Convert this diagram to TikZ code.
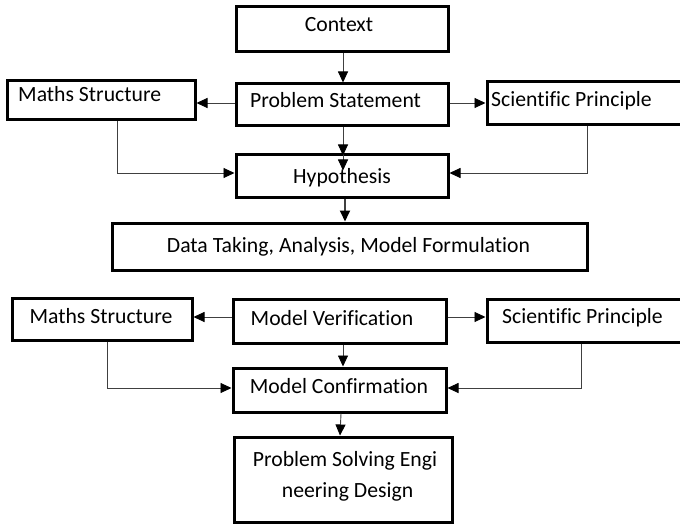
\documentclass[tikz,border=0pt]{standalone}
\usepackage{fontspec}
\setmainfont{Carlito}[Ligatures=NoCommon,RawFeature={-liga;-dlig;-clig}]
\usetikzlibrary{arrows.meta,calc}

\tikzset{
  box/.style={draw=black, line width=3pt, inner sep=0pt, rectangle},
  lbl/.style={inner sep=0pt, font=\fontsize{21.7}{26}\selectfont},
  link/.style={draw=black!75, line width=0.9pt,
    -{Triangle[length=11pt,width=10pt,color=black]}},
  twotip/.style={draw=black!75, line width=0.9pt,
    -{Triangle[length=11pt,width=10pt,sep=4pt,color=black]Triangle[length=11pt,width=10pt,color=black]}},
}

\begin{document}
\begin{tikzpicture}[x=1pt,y=-1pt]
\useasboundingbox (0,0) rectangle (680,524);

% upper block
\node[box, minimum width=212pt, minimum height=45pt] (ctx) at (342,29.5) {};
\node[box, minimum width=212pt, minimum height=42pt] (ps)  at (342,105) {};
\node[box, minimum width=188pt, minimum height=39pt] (ms1) at (101,100.5) {};
\node[box, minimum width=213pt, minimum height=43pt] (sp1) at (593.5,103.5) {};
\node[box, minimum width=212pt, minimum height=42pt] (hyp) at (342,176) {};
\node[box, minimum width=475pt, minimum height=47pt] (data) at (349.5,246.5) {};

% lower block
\node[box, minimum width=180pt, minimum height=42pt] (ms2) at (102,319) {};
\node[box, minimum width=213pt, minimum height=44pt] (mv)  at (339.5,321) {};
\node[box, minimum width=213pt, minimum height=43pt] (sp2) at (593.5,320.5) {};
\node[box, minimum width=213pt, minimum height=44pt] (mc)  at (339.5,390) {};
\node[box, minimum width=218pt, minimum height=85pt] (psd) at (343,479.5) {};

% texts
\node[lbl, anchor=base] (tctx) at (339,32) {Context};
\node[lbl, anchor=base] (tps) at (335.5,108) {Problem Statement};
\node[lbl, anchor=base west] (tms1) at (18,102) {Maths Structure};
\node[lbl, anchor=base west] (tsp1) at (491,107) {Scientific Principle};
\node[lbl, anchor=base] (thyp) at (342,183) {Hypothesis};
\node[lbl, anchor=base] (tdata) at (348.5,252) {Data Taking, Analysis, Model Formulation};
\node[lbl, anchor=base] (tms2) at (101,323) {Maths Structure};
\node[lbl, anchor=base] (tmv) at (332,325) {Model Verification};
\node[lbl, anchor=base west] (tsp2) at (502,323) {Scientific Principle};
\node[lbl, anchor=base] (tmc) at (339,393) {Model Confirmation};
\node[lbl, anchor=base] (tpsdA) at (345,466) {Problem Solving Engi};
\node[lbl, anchor=base] (tpsdB) at (347.5,497) {neering Design};

% side exits of the central boxes
\coordinate (psL) at ([yshift=2pt]ps.west);
\coordinate (psR) at ([yshift=2pt]ps.east);
\coordinate (mvL) at ([yshift=4pt]mv.west);
\coordinate (mvR) at ([yshift=4pt]mv.east);

% connectors, upper block
\draw[link] ([xshift=1pt]ctx.south) -- ([xshift=1pt]ps.north);
\draw[link] (psL) -- (ms1.east |- psL);
\draw[link] (psR) -- (sp1.west |- psR);
\draw[twotip] ([xshift=1pt]ps.south) -- ([xshift=1pt,yshift=-17pt]hyp.north);
\draw[link] ([xshift=16pt]ms1.south) |- ([yshift=3pt]hyp.west);
\draw[link] ([xshift=-6.5pt]sp1.south) |- ([yshift=3pt]hyp.east);
\draw[link, line width=1.8pt] ([xshift=3pt]hyp.south) -- ([xshift=3pt]data.north -| hyp.south);

% connectors, lower block
\draw[link] (mvL) -- (ms2.east |- mvL);
\draw[link] (mvR) -- (sp2.west |- mvR);
\draw[link] ([xshift=3.5pt]mv.south) -- ([xshift=3.5pt]mc.north);
\draw[link] ([xshift=5pt]ms2.south) |- ([yshift=2pt]mc.west);
\draw[link] ([xshift=-12.5pt]sp2.south) |- ([yshift=2pt]mc.east);
\draw[link] ([xshift=1.5pt]mc.south) -- ([xshift=0.5pt]psd.north -| mc.south);
\end{tikzpicture}
\end{document}
